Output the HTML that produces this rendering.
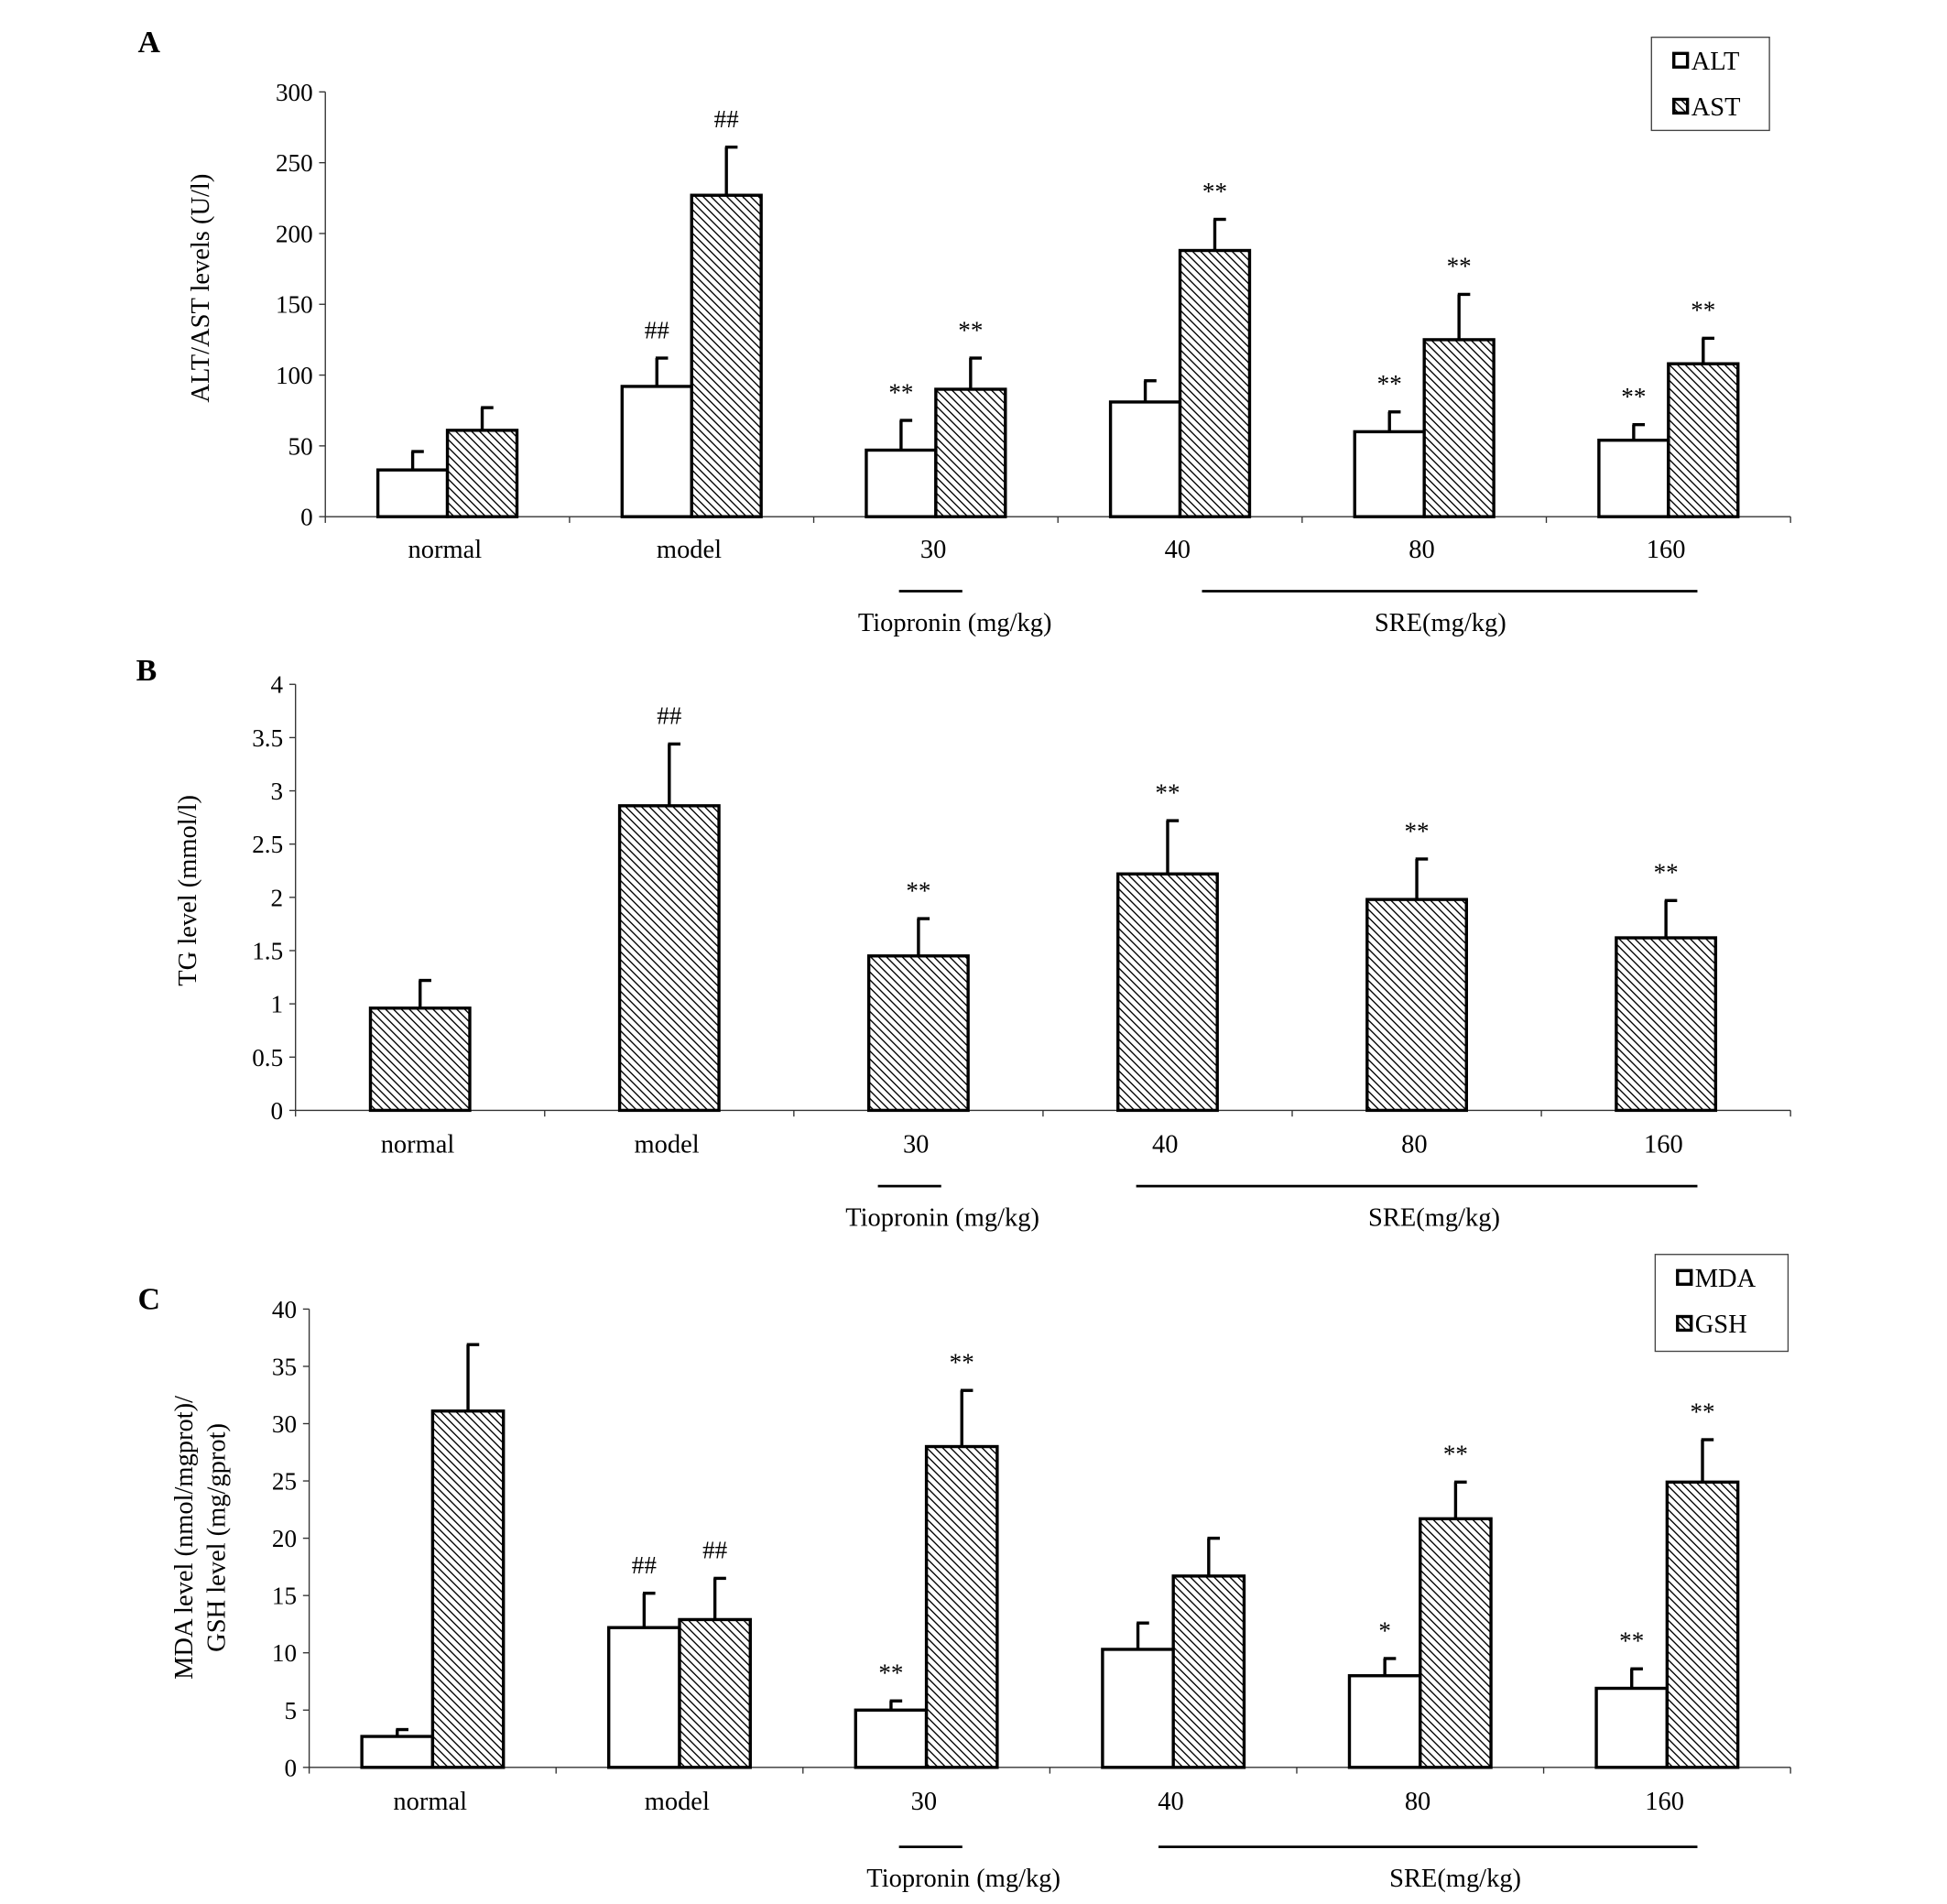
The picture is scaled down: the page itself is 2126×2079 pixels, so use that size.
<!DOCTYPE html>
<html><head><meta charset="utf-8"><style>
html,body{margin:0;padding:0;background:#fff;}
svg{display:block;font-family:"Liberation Serif",serif;}
</style></head><body>
<svg id="fig" width="2126" height="2079" viewBox="0 0 1568 1533" preserveAspectRatio="none" xmlns="http://www.w3.org/2000/svg">
<defs>
<pattern id="hatch" patternUnits="userSpaceOnUse" width="4.5" height="4.5" patternTransform="rotate(-45)">
<rect width="4.5" height="4.5" fill="#fff"/><line x1="0" y1="0" x2="0" y2="4.5" stroke="#000" stroke-width="2"/>
</pattern>
</defs>
</svg>
<script>
const categories = ["normal","model","30","40","80","160"];
// Panel A
const altValues = [33,92,47,81,60,54];
const altErr = [13,20,21,15,14,11];
const astValues = [61,227,90,188,125,108];
const astErr = [16,34,22,22,32,18];
const altMarks = ["","##","**","","**","**"];
const astMarks = ["","##","**","**","**","**"];
const ticksA = [0,50,100,150,200,250,300];
// Panel B
const tgValues = [0.96,2.86,1.45,2.22,1.98,1.62];
const tgErr = [0.26,0.58,0.35,0.50,0.38,0.35];
const tgMarks = ["","##","**","**","**","**"];
const ticksB = [0,0.5,1,1.5,2,2.5,3,3.5,4];
// Panel C
const mdaValues = [2.7,12.2,5.0,10.3,8.0,6.9];
const mdaErr = [0.6,3.0,0.8,2.3,1.5,1.7];
const gshValues = [31.1,12.9,28.0,16.7,21.7,24.9];
const gshErr = [5.8,3.6,4.9,3.3,3.2,3.7];
const mdaMarks = ["","##","**","","*","**"];
const gshMarks = ["","##","**","","**","**"];
const ticksC = [0,5,10,15,20,25,30,35,40];

const svg = document.getElementById('fig');
const NS = "http://www.w3.org/2000/svg";
function mk(tag, attrs, parent){const e=document.createElementNS(NS,tag);for(const k in attrs)e.setAttribute(k,attrs[k]);(parent||svg).appendChild(e);return e;}
function txt(s, x, y, size, anchor, parent, extra){const t=mk('text',Object.assign({x:x,y:y,'font-size':size,'text-anchor':anchor||'middle'},extra||{}),parent);t.textContent=s;return t;}

function panel(cfg){
  const g = mk('g',{});
  
  
  const {x0,x1,yTop,yBot,max} = cfg;
  const ys = v => yBot - (v/max)*(yBot-yTop);
  const gw = (x1-x0)/categories.length;
  const xc = i => x0 + gw*(i+0.5);
  const ax = mk('line',{x1:x0,y1:yTop,x2:x0,y2:yBot,stroke:'#333','stroke-width':1},g);
  
  
  cfg.ticks.forEach(t=>{
    const y=ys(t);
    mk('line',{x1:x0-5,y1:y,x2:x0,y2:y,stroke:'#333','stroke-width':1},g);
    const tl=txt(String(t),x0-10,y+7,20,'end',g);
    
    
  });
  const xa = mk('line',{x1:x0,y1:yBot,x2:x1,y2:yBot,stroke:'#333','stroke-width':1},g);
  
  
  for(let i=0;i<=categories.length;i++){
    mk('line',{x1:x0+gw*i,y1:yBot,x2:x0+gw*i,y2:yBot+5,stroke:'#333','stroke-width':1},g);
  }
  categories.forEach((c,i)=>{
    const l=txt(c,xc(i)-2,cfg.labelY,21,'middle',g);
    
    
  });
  cfg.series.forEach((s,si)=>{
    s.values.forEach((v,i)=>{
      const bx = xc(i) + s.offset;
      const yv = ys(v), ye = ys(v+s.err[i]);
      mk('line',{x1:bx+s.w/2,y1:yv,x2:bx+s.w/2,y2:ye,stroke:'#000','stroke-width':2.5},g);
      mk('line',{x1:bx+s.w/2-1,y1:ye,x2:bx+s.w/2+9,y2:ye,stroke:'#000','stroke-width':2.5},g);
      const r=mk('rect',{x:bx,y:yv,width:s.w,height:yBot-yv,fill:s.fill,stroke:'#000','stroke-width':2.5},g);
      
      
      if(s.marks[i]){
        const m=txt(s.marks[i],bx+s.w/2,ye-16,20,'middle',g);
        
        
      }
    });
  });
  mk('line',{x1:cfg.tio[0],y1:cfg.lineY,x2:cfg.tio[1],y2:cfg.lineY,stroke:'#000','stroke-width':2},g);
  mk('line',{x1:cfg.sre[0],y1:cfg.lineY,x2:cfg.sre[1],y2:cfg.lineY,stroke:'#000','stroke-width':2},g);
  const t1=txt('Tiopronin (mg/kg)',cfg.tioText,cfg.lineY+32,21,'middle',g);
  
  
  const t2=txt('SRE(mg/kg)',cfg.sreText,cfg.lineY+32,21,'middle',g);
  
  
  const pl=txt(cfg.letter,cfg.letterX,cfg.letterY,25,'middle',g,{'font-weight':'bold'});
  
  
  cfg.ytitle.forEach((line,k)=>{
    const yt=txt(line,0,0,21,'middle',g,{transform:`translate(${cfg.ytX[k]},${cfg.ytY}) rotate(-90)`});
    
    
  });
  if(cfg.legend){
    const L=cfg.legend;
    const lg=mk('g',{},g);
    
    
    mk('rect',{x:L.x,y:L.y,width:L.w,height:L.h,fill:'#fff',stroke:'#444','stroke-width':1},lg);
    L.items.forEach((it,k)=>{
      const cy=L.y+19+k*37;
      const sw=mk('rect',{x:L.x+18,y:cy-6,width:11,height:11,fill:it.fill,stroke:'#000','stroke-width':2.5},lg);
      
      
      const lt=txt(it.label,L.x+32,cy+7,21,'start',lg);
      
      
    });
  }
}

panel({name:'panel-a',x0:262,x1:1442,yTop:74,yBot:416,max:300,ticks:ticksA,labelY:449,
  series:[{key:'alt',values:altValues,err:altErr,marks:altMarks,offset:-56,w:56,fill:'#fff'},
          {key:'ast',values:astValues,err:astErr,marks:astMarks,offset:0,w:56,fill:'url(#hatch)'}],
  lineY:476,tio:[724,775],sre:[968,1367],tioText:769,sreText:1160,letter:'A',letterX:120,letterY:42,
  ytitle:['ALT/AST levels (U/l)'],ytX:[168],ytY:232,
  legend:{x:1330,y:30,w:95,h:75,items:[{label:'ALT',fill:'#fff'},{label:'AST',fill:'url(#hatch)'}]}});

panel({name:'panel-b',x0:238,x1:1442,yTop:551,yBot:894,max:4,ticks:ticksB,labelY:928,
  series:[{key:'tg',values:tgValues,err:tgErr,marks:tgMarks,offset:-40,w:80,fill:'url(#hatch)'}],
  lineY:955,tio:[707,758],sre:[915,1367],tioText:759,sreText:1155,letter:'B',letterX:118,letterY:548,
  ytitle:['TG level (mmol/l)'],ytX:[158],ytY:717});

panel({name:'panel-c',x0:249,x1:1442,yTop:1054,yBot:1423,max:40,ticks:ticksC,labelY:1457,
  series:[{key:'mda',values:mdaValues,err:mdaErr,marks:mdaMarks,offset:-57,w:57,fill:'#fff'},
          {key:'gsh',values:gshValues,err:gshErr,marks:gshMarks,offset:0,w:57,fill:'url(#hatch)'}],
  lineY:1487,tio:[724,775],sre:[933,1367],tioText:776,sreText:1172,letter:'C',letterX:120,letterY:1054,
  ytitle:['MDA level (nmol/mgprot)/','GSH level (mg/gprot)'],ytX:[155,181],ytY:1238,
  legend:{x:1333,y:1010,w:107,h:78,items:[{label:'MDA',fill:'#fff'},{label:'GSH',fill:'url(#hatch)'}]}});
</script>
</body></html>
